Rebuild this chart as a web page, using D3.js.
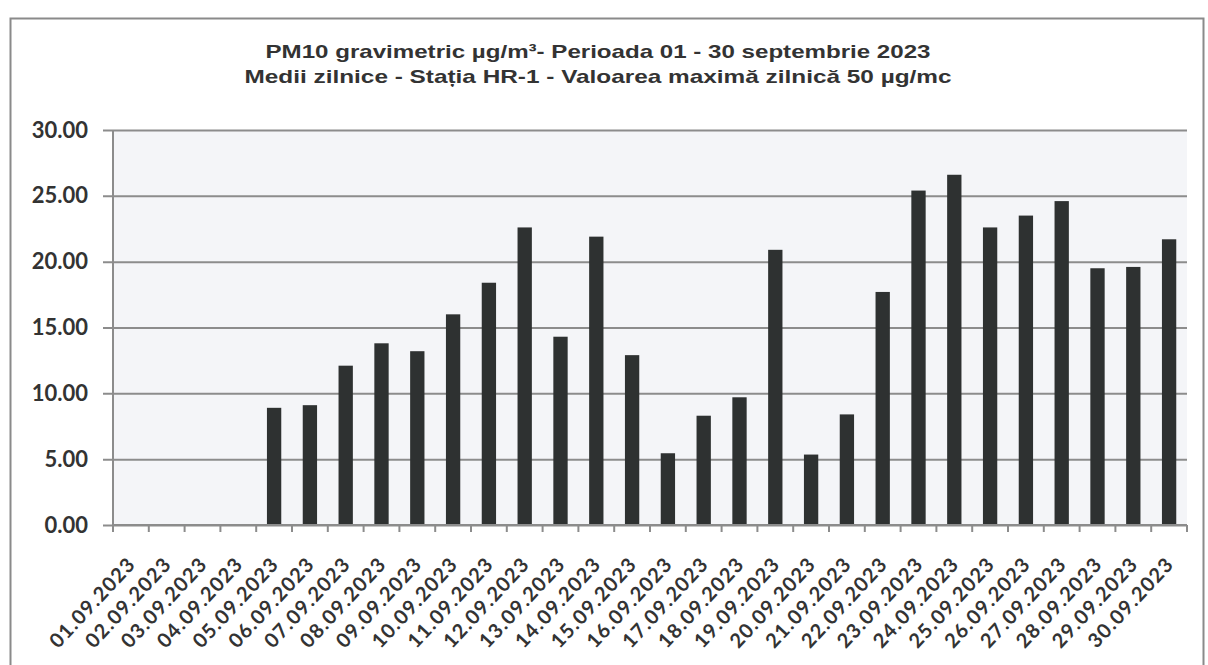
<!DOCTYPE html>
<html>
<head>
<meta charset="utf-8">
<script src="https://cdn.jsdelivr.net/npm/d3@7"></script>
<style>
  body { margin: 0; background: #fff; }
  .title { font-family: "Liberation Sans", Arial, sans-serif; font-weight: bold; fill: #333; }
  .tick-lbl { font-family: Lato, sans-serif; font-weight: bold; fill: #333; }
</style>
</head>
<body>
<div id="chart"></div>
<script>
// data (PM10, daily means, Sept 2023)
var days = ["01.09.2023","02.09.2023","03.09.2023","04.09.2023","05.09.2023","06.09.2023",
            "07.09.2023","08.09.2023","09.09.2023","10.09.2023","11.09.2023","12.09.2023",
            "13.09.2023","14.09.2023","15.09.2023","16.09.2023","17.09.2023","18.09.2023",
            "19.09.2023","20.09.2023","21.09.2023","22.09.2023","23.09.2023","24.09.2023",
            "25.09.2023","26.09.2023","27.09.2023","28.09.2023","29.09.2023","30.09.2023"];
var pm10 = [null, null, null, null, 8.9, 9.1, 12.1, 13.8, 13.2, 16.0, 18.4, 22.6,
            14.3, 21.9, 12.9, 5.45, 8.3, 9.7, 20.9, 5.35, 8.4, 17.7, 25.4, 26.6,
            22.6, 23.5, 24.6, 19.5, 19.6, 21.7];
var yTicks = [0, 5, 10, 15, 20, 25, 30];
var titleLines = ["PM10 gravimetric µg/m³- Perioada 01 - 30 septembrie 2023",
                  "Medii zilnice - Stația HR-1 -  Valoarea maximă zilnică 50 µg/mc"];

var W = 1208, H = 665;
var margin = {top: 130, right: 21, bottom: 140, left: 113};
var w = W - margin.left - margin.right;
var h = H - margin.top - margin.bottom;

var svg = d3.select("#chart").append("svg")
    .attr("width", W)
    .attr("height", H);

// outer frame of the pasted chart
svg.append("path")
    .attr("d", "M10.5," + H + " L10.5,18.5 L1203.5,18.5 L1203.5," + H)
    .attr("fill", "none")
    .attr("stroke", "#8a8a8a")
    .attr("stroke-width", 2);

svg.selectAll(".title")
    .data(titleLines)
    .enter().append("text")
    .attr("class", "title")
    .attr("x", 598)
    .attr("y", function(d, i) { return 58 + i * 25; })
    .attr("text-anchor", "middle")
    .style("font-size", "19px")
    .attr("textLength", function(d, i) { return i === 0 ? 665 : 707; })
    .attr("lengthAdjust", "spacingAndGlyphs")
    .text(function(d) { return d; });

var g = svg.append("g")
    .attr("transform", "translate(" + margin.left + "," + margin.top + ")");

var x = d3.scaleBand().domain(days).range([0, w]).paddingInner(0.6).paddingOuter(0.3);
var y = d3.scaleLinear().domain([0, 30]).range([h, 0]);

// plot area background
g.append("rect")
    .attr("width", w)
    .attr("height", h)
    .attr("fill", "#f4f5f8");

// gridlines + y labels
var yAxis = d3.axisLeft(y)
    .tickValues(yTicks)
    .tickSize(-w - 10)
    .tickFormat(d3.format(".2f"));

var yg = g.append("g")
    .attr("transform", "translate(-10,0)")
    .call(yAxis);
yg.select(".domain").remove();
yg.selectAll(".tick line")
    .attr("stroke", "#8c8c8c")
    .attr("stroke-width", 2);
yg.selectAll(".tick text")
    .attr("class", "tick-lbl")
    .attr("x", -15)
    .style("font-size", "22px");

// left axis line
g.append("line")
    .attr("x1", 0).attr("x2", 0)
    .attr("y1", 0).attr("y2", h)
    .attr("stroke", "#8c8c8c")
    .attr("stroke-width", 2);

// bars
g.selectAll(".bar")
    .data(days.map(function(d, i) { return {day: d, v: pm10[i]}; })
              .filter(function(d) { return d.v !== null; }))
    .enter().append("rect")
    .attr("class", "bar")
    .attr("x", function(d) { return x(d.day); })
    .attr("width", x.bandwidth())
    .attr("y", function(d) { return y(d.v); })
    .attr("height", function(d) { return h - y(d.v); })
    .attr("fill", "#2e3131");

// x axis: ticks between categories
var step = x.step();
var xg = g.append("g").attr("transform", "translate(0," + h + ")");
xg.append("line")
    .attr("x1", 0).attr("x2", w)
    .attr("stroke", "#8c8c8c")
    .attr("stroke-width", 2);
xg.selectAll(".xt")
    .data(d3.range(days.length + 1))
    .enter().append("line")
    .attr("class", "xt")
    .attr("x1", function(i) { return i * step; })
    .attr("x2", function(i) { return i * step; })
    .attr("y1", 0).attr("y2", 7)
    .attr("stroke", "#8c8c8c")
    .attr("stroke-width", 2);

xg.selectAll(".xl")
    .data(days)
    .enter().append("text")
    .attr("class", "tick-lbl")
    .attr("text-anchor", "end")
    .style("font-size", "20px")
    .style("letter-spacing", "1.3px")
    .attr("transform", function(d) {
        var cx = x(d) + x.bandwidth() / 2;
        return "translate(" + (cx + 6) + ",40) rotate(-47)";
    })
    .text(function(d) { return d; });
</script>
</body>
</html>
